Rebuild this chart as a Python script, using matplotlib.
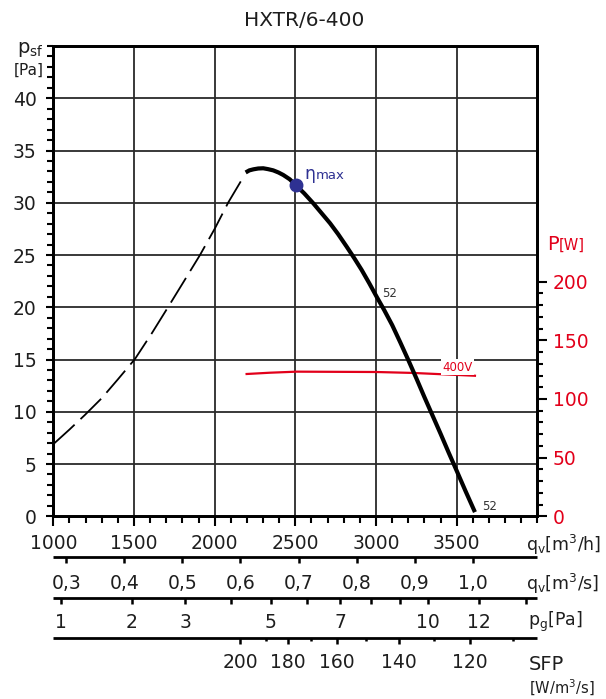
import numpy as np
import matplotlib.pyplot as plt
from matplotlib.ticker import FixedLocator
import matplotlib.transforms as mtransforms

plt.rcParams['font.family'] = 'DejaVu Sans'
plt.rcParams['mathtext.fontset'] = 'dejavusans'
plt.rcParams['mathtext.default'] = 'regular'

# fan curve (static pressure, Pa) vs airflow (m3/h)
dash_q = [1000, 1100, 1196, 1300, 1400, 1506, 1610, 1713, 1810, 1909, 2002, 2085, 2167, 2185]
dash_p = [6.9, 8.3, 9.7, 11.3, 13.1, 15.05, 17.5, 20.06, 22.5, 25.0, 27.56, 30.05, 32.18, 32.6]
curve_q = [2192, 2215, 2240, 2270, 2301, 2330, 2363, 2395, 2425, 2465, 2502, 2555,
           2611, 2660, 2715, 2765, 2818, 2865, 2911, 2958, 3004, 3050, 3100, 3150,
           3200, 3250, 3300, 3350, 3400, 3450, 3500, 3555, 3613]
curve_p = [32.9, 33.1, 33.2, 33.28, 33.3, 33.22, 33.1, 32.9, 32.66, 32.25, 31.7, 30.9,
           29.95, 29.05, 28.04, 27.0, 25.8, 24.7, 23.57, 22.3, 21.0, 19.75, 18.3, 16.65,
           14.95, 13.2, 11.4, 9.65, 7.9, 6.1, 4.35, 2.4, 0.4]
eta_q, eta_p = 2502, 31.7

# input power (W)
power_q = [2198, 2343, 2508, 3004, 3231, 3613]
power_w = [121.3, 122.4, 123.3, 123.0, 122.2, 119.8]

# auxiliary scales
qs_vals = [0.3, 0.4, 0.5, 0.6, 0.7, 0.8, 0.9, 1.0]
qs_labels = ['0,3', '0,4', '0,5', '0,6', '0,7', '0,8', '0,9', '1,0']
pg_vals = [1, 2, 3, 4, 5, 6, 7, 8, 9, 10, 12, 14]
pg_labeled = [1, 2, 3, 5, 7, 10, 12]
sfp_vals = [200, 190, 180, 170, 160, 150, 140, 130, 120, 110]
sfp_pos = [2159, 2320, 2454, 2597, 2758, 2938, 3140, 3357, 3584, 3850]
sfp_labeled = [200, 180, 160, 140, 120]

red = '#e2001a'
blue = '#2e3192'
ink = '#1e1e1e'

W, H = 606, 699
fig = plt.figure(figsize=(W / 100, H / 100), dpi=100)
x0, x1, y0, y1 = 53.3, 537.4, 516.3, 46
ax = fig.add_axes([x0 / W, 1 - y0 / H, (x1 - x0) / W, (y0 - y1) / H])
ax2 = ax.twinx()
ax.set_zorder(ax2.get_zorder() + 1)
ax.patch.set_visible(False)

ax.set_xlim(1000, 4000)
ax.set_ylim(0, 45)
ax2.set_ylim(0, 400.9)

ax.set_xticks(np.arange(1000, 3501, 500))
ax.xaxis.set_minor_locator(FixedLocator(np.arange(1000, 4001, 100)))
ax.set_yticks(np.arange(0, 41, 5))
ax.yaxis.set_minor_locator(FixedLocator(np.arange(0, 46, 1)))
ax.grid(True, which='major', color='#2a2a2a', lw=1.3, zorder=0)
ax.axvline(4000, color='#2a2a2a', lw=1.3)

ax.tick_params(axis='x', which='major', length=7, width=1.5, pad=6,
               labelsize=13.5, labelcolor=ink)
ax.tick_params(axis='x', which='minor', length=5, width=1.5)
ax.tick_params(axis='y', which='major', length=5, width=1.5, pad=7,
               labelsize=13.5, labelcolor=ink)
ax.tick_params(axis='y', which='minor', length=4, width=1.5)

ax2.set_yticks([0, 50, 100, 150, 200])
ax2.yaxis.set_minor_locator(FixedLocator(np.arange(0, 201, 10)))
ax2.tick_params(axis='y', which='major', length=7, width=1.5, pad=4,
                labelsize=13.5, labelcolor=red)
ax2.tick_params(axis='y', which='minor', length=4, width=1.5)

for a in (ax, ax2):
    for s in a.spines.values():
        s.set_linewidth(2)
        s.set_color('black')

# curves
ax.plot(dash_q, dash_p, color='black', lw=1.3, linestyle=(0, (16, 4.5)), zorder=3)
ax.plot(curve_q, curve_p, color='black', lw=3.0, solid_capstyle='butt',
        solid_joinstyle='round', zorder=4)
ax.plot([eta_q], [eta_p], 'o', color=blue, ms=9, zorder=5)
ax.text(2555, 31.85, '\u03b7', color=blue, fontsize=12.5, va='bottom', zorder=6)
ax.text(2625, 31.95, 'max', color=blue, fontsize=9.5, va='bottom', zorder=6)
ax.text(3040, 21.0, '52', color='#333333', fontsize=8.5, zorder=6)
ax.text(3660, 0.6, '52', color='#333333', fontsize=8.5, zorder=6)

ax.plot(power_q, power_w, color=red, lw=1.6, zorder=3, transform=ax2.transData)
ax.text(3505, 127, '400V', color=red, fontsize=8.5, ha='center', va='center',
        transform=ax2.transData, zorder=6,
        bbox=dict(facecolor='white', edgecolor='none', pad=1.0))

# titles and axis labels
def fx(px):
    return px / W

def fy(px):
    return 1 - px / H

fig.text(fx(304.5), fy(21), 'HXTR/6-400', fontsize=14.5, ha='center', va='center', color=ink)
fig.text(fx(44), fy(53), r'p$_{sf}$', fontsize=14, ha='right', va='baseline', color=ink)
fig.text(fx(44), fy(70), '[Pa]', fontsize=11, ha='right', va='center', color=ink)
fig.text(fx(547), fy(250), 'P', fontsize=14, ha='left', va='baseline', color=red)
fig.text(fx(559), fy(250), '[W]', fontsize=10.5, ha='left', va='baseline', color=red)

fig.text(fx(526), fy(545), r'q$_v$[m$^3$/h]', fontsize=12.5, ha='left', va='center', color=ink)
fig.text(fx(526), fy(584), r'q$_v$[m$^3$/s]', fontsize=12.5, ha='left', va='center', color=ink)
fig.text(fx(528), fy(622), r'p$_g$[Pa]', fontsize=12.5, ha='left', va='center', color=ink)
fig.text(fx(529), fy(664), 'SFP', fontsize=14, ha='left', va='center', color=ink)
fig.text(fx(529), fy(688), r'[W/m$^3$/s]', fontsize=10.5, ha='left', va='center', color=ink)

# auxiliary scale rows under the chart
trans = mtransforms.blended_transform_factory(ax.transData, fig.transFigure)

def scale_row(y_line, positions, long_flags, labels, y_label):
    ax.plot([1000, 4000], [fy(y_line), fy(y_line)], color='black', lw=2,
            transform=trans, clip_on=False, solid_capstyle='butt')
    for pos, lng in zip(positions, long_flags):
        ln = 6.5 if lng else 3.5
        ax.plot([pos, pos], [fy(y_line), fy(y_line + ln)], color='black', lw=1.8,
                transform=trans, clip_on=False, solid_capstyle='butt')
    for pos, lab in labels:
        ax.text(pos, fy(y_label), lab, transform=trans, ha='center', va='center',
                fontsize=13.5, color=ink, clip_on=False)

qs_pos = [v * 3600 for v in qs_vals]
scale_row(556.7, qs_pos, [True] * len(qs_pos),
          list(zip(qs_pos, qs_labels)), 583.3)

pg_pos = [1050 * np.sqrt(v) for v in pg_vals]
scale_row(597.7, pg_pos, [True] * len(pg_pos),
          [(p, str(v)) for p, v in zip(pg_pos, pg_vals) if v in pg_labeled], 622.3)

scale_row(637.7, sfp_pos, [v in sfp_labeled for v in sfp_vals],
          [(p, str(v)) for p, v in zip(sfp_pos, sfp_vals) if v in sfp_labeled], 663)

fig.savefig('out.png', dpi=100)
